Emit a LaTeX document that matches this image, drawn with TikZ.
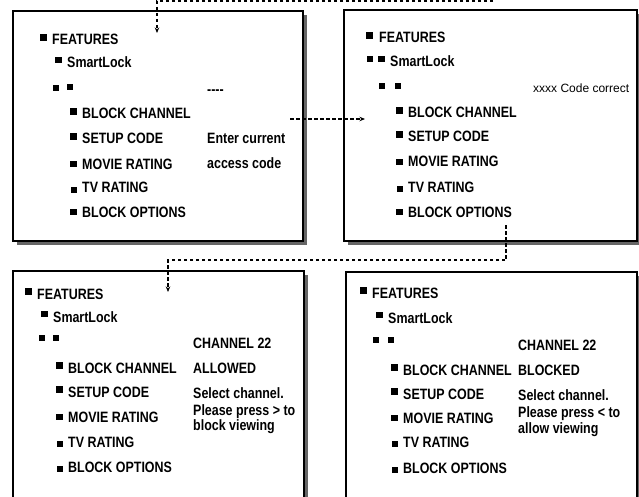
\documentclass[tikz,border=0pt]{standalone}
\usepackage{fontspec}
\usepackage{tikz}
\usetikzlibrary{arrows.meta, positioning, shadows}

\newfontfamily\menufont[FakeStretch=0.83]{Liberation Sans}
\newfontfamily\plainfont{Liberation Sans}

\begin{document}
\begin{tikzpicture}[
            x = 1pt,
            y = -1pt,
            > = {Stealth[length=5.5pt, width=4.5pt]},
            node distance = 5pt
        ]

        \tikzstyle{screen}=[
            draw = black,
            line width = 1.6pt,
            fill = white,
            anchor = north west,
            minimum width = 290pt,
            drop shadow = {shadow xshift=4pt, shadow yshift=-4pt, fill=black!60, opacity=1}
        ]
        \tikzstyle{entry}=[anchor=base west, inner sep=0pt, font=\menufont\bfseries\fontsize{15}{17}\selectfont]
        \tikzstyle{note}=[entry, font=\plainfont\fontsize{12}{14}\selectfont]
        \tikzstyle{bullet}=[fill=black, inner sep=0pt, minimum size=6.5pt]
        \tikzstyle{hibullet}=[bullet, yshift=2.5pt]
        \tikzstyle{lobullet}=[bullet, minimum size=5.5pt, yshift=-2pt]
        \tikzstyle{link}=[->, line width=1.1pt, dash pattern=on 3.5pt off 2.5pt]

        \path[use as bounding box, clip] (0,0) rectangle (639,497);

        % the four screens
        \node[screen, minimum height=230pt] (menu1) at (12,10) {};
        \node[screen, minimum width=293pt, minimum height=231pt] (menu2) at (343,9) {};
        \node[screen, minimum width=291pt, minimum height=260pt] (menu3) at (12,270) {};
        \node[screen, minimum width=291pt, minimum height=260pt] (menu4) at (345,271) {};

        % screen 1: enter code
        \node[entry] (f1) at (52,45) {FEATURES};
        \node[entry] (s1) at (67,68) {SmartLock};
        \node[bullet] (r1a) at (56,88) {};
        \node[bullet] (r1b) at (70,87) {};
        \node[entry] (d1) at (207,95) {----};
        \node[entry] (c1) at (82,119) {BLOCK CHANNEL};
        \node[entry] (u1) at (82,144) {SETUP CODE};
        \node[entry] (m1) at (82,169) {MOVIE RATING};
        \node[entry] (t1) at (82,193) {TV RATING};
        \node[entry] (o1) at (82,217) {BLOCK OPTIONS};
        \node[entry] (e1) at (207,144) {Enter current};
        \node[entry] (a1) at (207,168) {access code};
        \node[hibullet, left=of f1] {};
        \node[hibullet, left=of s1] {};
        \node[hibullet, left=of c1] {};
        \node[hibullet, left=of u1] {};
        \node[bullet, left=of m1] {};
        \node[lobullet, left=of t1] {};
        \node[bullet, left=of o1] {};

        % screen 2: code correct
        \node[entry] (f2) at (379,43) {FEATURES};
        \node[entry] (s2) at (390,67) {SmartLock};
        \node[bullet] (s2x) at (370,59) {};
        \node[bullet] (r2a) at (382,86) {};
        \node[bullet] (r2b) at (398,86) {};
        \node[note] (x2) at (533,93) {xxxx Code correct};
        \node[entry] (c2) at (408,118) {BLOCK CHANNEL};
        \node[entry] (u2) at (408,142) {SETUP CODE};
        \node[entry] (m2) at (408,167) {MOVIE RATING};
        \node[entry] (t2) at (408,192) {TV RATING};
        \node[entry] (o2) at (408,217) {BLOCK OPTIONS};
        \node[hibullet, left=6pt of f2] {};
        \node[hibullet, left=of s2] {};
        \node[hibullet, left=of c2] {};
        \node[hibullet, left=of u2] {};
        \node[bullet, left=of m2] {};
        \node[lobullet, left=of t2] {};
        \node[bullet, left=of o2] {};

        % screen 3: channel allowed
        \node[entry] (f3) at (37,299) {FEATURES};
        \node[entry] (s3) at (53,322) {SmartLock};
        \node[bullet] (r3a) at (42,338) {};
        \node[bullet] (r3b) at (56,338) {};
        \node[entry] (c3) at (68,373) {BLOCK CHANNEL};
        \node[entry] (u3) at (68,397) {SETUP CODE};
        \node[entry] (m3) at (68,422) {MOVIE RATING};
        \node[entry] (t3) at (68,447) {TV RATING};
        \node[entry] (o3) at (68,472) {BLOCK OPTIONS};
        \node[entry] (h3) at (193,348) {CHANNEL 22};
        \node[entry] (k3) at (193,373) {ALLOWED};
        \node[entry] (l3a) at (193,398) {Select channel.};
        \node[entry] (l3b) at (193,415) {Please press > to};
        \node[entry] (l3c) at (193,430) {block viewing};
        \node[hibullet, left=of f3] {};
        \node[hibullet, left=of s3] {};
        \node[hibullet, left=of c3] {};
        \node[hibullet, left=of u3] {};
        \node[bullet, left=of m3] {};
        \node[lobullet, left=of t3] {};
        \node[lobullet, left=of o3] {};

        % screen 4: channel blocked
        \node[entry] (f4) at (372,298) {FEATURES};
        \node[entry] (s4) at (388,323) {SmartLock};
        \node[bullet] (r4a) at (376,340) {};
        \node[bullet] (r4b) at (391,340) {};
        \node[entry] (c4) at (403,375) {BLOCK CHANNEL};
        \node[entry] (u4) at (403,399) {SETUP CODE};
        \node[entry] (m4) at (403,423) {MOVIE RATING};
        \node[entry] (t4) at (403,447) {TV RATING};
        \node[entry] (o4) at (403,473) {BLOCK OPTIONS};
        \node[entry] (h4) at (518,350) {CHANNEL 22};
        \node[entry] (k4) at (518,375) {BLOCKED};
        \node[entry] (l4a) at (518,400) {Select channel.};
        \node[entry] (l4b) at (518,417) {Please press < to};
        \node[entry] (l4c) at (518,433) {allow viewing};
        \node[hibullet, left=of f4] {};
        \node[hibullet, left=of s4] {};
        \node[hibullet, left=of c4] {};
        \node[hibullet, left=of u4] {};
        \node[bullet, left=of m4] {};
        \node[lobullet, left=of t4] {};
        \node[lobullet, left=of o4] {};

        % dotted links between the screens
        \coordinate (prev) at (493,1);
        \coordinate (in1) at (157,33);
        \coordinate (out1) at (290,119);
        \coordinate (in2) at (365,119);
        \coordinate (out2) at (506,225);
        \coordinate (in3) at (168,292);

        \draw[link] (prev) -| (in1);
        \draw[link] (out1) -- (in2);
        \draw[link] (out2) -- ++(0,35) -| (in3);

    \end{tikzpicture}
\end{document}
